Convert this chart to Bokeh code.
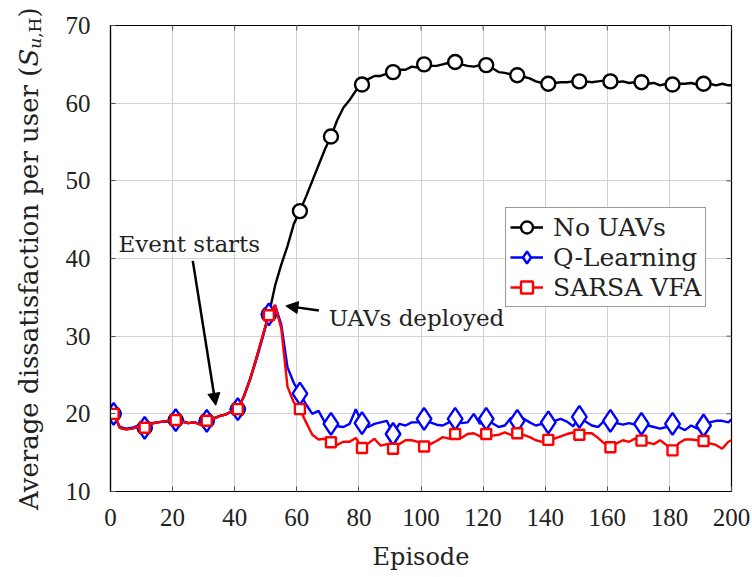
import math
from bokeh.plotting import figure
from bokeh.layouts import row
from bokeh.models import (ColumnDataSource, Range1d, Label, Arrow, Div,
                          NormalHead, Legend, LegendItem, FixedTicker)
from bokeh.embed import file_html
from bokeh.resources import INLINE

# ---------------- data ----------------
episodes = list(range(1, 200, 2)) + [200]

no_uavs = [
    20.0, 18.2, 18.0, 18.1, 18.4, 18.2, 18.7, 18.9, 19.0, 19.1,
    19.2, 19.0, 18.8, 18.9, 18.6, 19.1, 19.3, 19.7, 19.9, 20.3,
    20.6, 22.3, 24.5, 27.2, 30.0, 32.8, 36.5, 39.2, 41.6, 44.4,
    46.1, 48.0, 50.0, 52.0, 54.0, 55.7, 57.8, 59.4, 60.4, 61.6,
    62.4, 63.1, 63.5, 63.5, 63.8, 64.0, 64.3, 64.3, 64.7, 64.6,
    65.0, 64.8, 64.8, 65.0, 65.2, 65.3, 65.0, 64.8, 64.7, 64.9,
    64.9, 64.5, 64.0, 63.9, 63.7, 63.6, 63.4, 63.2, 62.8, 62.6,
    62.5, 62.6, 62.7, 62.7, 62.8, 62.8, 62.8, 62.7, 62.8, 62.9,
    62.8, 62.7, 62.8, 62.6, 62.7, 62.7, 62.5, 62.6, 62.3, 62.5,
    62.4, 62.5, 62.5, 62.6, 62.4, 62.5, 62.5, 62.3, 62.5, 62.3,
    62.3]

q_learning = [
    20.0, 18.3, 18.1, 18.2, 18.5, 18.2, 18.8, 18.9, 19.0, 19.0,
    19.2, 19.1, 18.8, 18.9, 18.7, 19.1, 19.4, 19.7, 19.9, 20.3,
    20.6, 22.3, 24.5, 27.0, 29.8, 32.8, 34.0, 31.5, 26.0, 24.0,
    22.6, 21.2, 20.0, 20.4, 18.9, 18.7, 18.4, 18.3, 18.7, 20.6,
    18.8, 18.3, 18.7, 18.9, 19.1, 17.4, 18.7, 18.5, 18.9, 18.9,
    19.35, 18.9, 18.6, 18.5, 18.9, 19.35, 18.8, 18.9, 20.0, 18.7,
    19.35, 18.8, 18.3, 18.5, 19.5, 19.1, 19.4, 18.9, 18.5, 18.7,
    18.9, 19.1, 19.35, 19.0, 18.4, 19.6, 19.0, 18.5, 18.3, 19.1,
    19.1, 18.8, 18.6, 18.8, 18.6, 18.7, 18.5, 18.3, 18.1, 18.3,
    18.7, 18.3, 17.9, 18.5, 18.1, 18.5, 18.9, 19.1, 19.1, 18.9,
    19.3]

sarsa_vfa = [
    20.0, 18.2, 18.0, 18.1, 18.4, 18.2, 18.7, 18.9, 19.0, 19.1,
    19.2, 19.0, 18.8, 18.9, 18.6, 19.1, 19.3, 19.7, 19.9, 20.3,
    20.6, 22.3, 24.5, 27.2, 30.0, 32.7, 34.0, 31.0, 23.5, 21.5,
    20.6, 18.9, 17.3, 16.7, 16.8, 16.35, 16.0, 16.4, 16.4, 16.9,
    15.6, 16.2, 16.8, 15.9, 16.1, 15.5, 16.1, 16.6, 16.6, 16.4,
    15.8, 16.1, 16.5, 17.0, 16.8, 17.4, 16.9, 17.4, 17.5, 17.1,
    17.4, 17.2, 17.3, 17.6, 17.3, 17.5, 17.3, 17.0, 16.6, 16.4,
    16.65, 16.8, 17.1, 17.4, 17.6, 17.3, 17.5, 17.5, 16.9, 16.2,
    15.7, 16.2, 16.6, 16.4, 16.8, 16.55, 16.3, 16.1, 16.6, 16.0,
    15.3, 16.2, 16.7, 16.7, 16.6, 16.5, 16.2, 16.0, 15.5, 16.4,
    16.6]

series_names = ["No UAVs", "Q-Learning", "SARSA VFA"]
x_ticks = [0, 20, 40, 60, 80, 100, 120, 140, 160, 180, 200]
y_ticks = [10, 20, 30, 40, 50, 60, 70]
x_label = "Episode"
y_label_html = 'Average dissatisfaction per user (<i>S</i><sub style="font-size:17px;"><i>u</i>,H</sub>)'

annot_event = "Event starts"
annot_uav = "UAVs deployed"

# ---------------- styling ----------------
TXT_FONT = "DejaVu Serif"
NUM_FONT = "Liberation Serif"
TXT_COLOR = "#222222"

p = figure(frame_width=621, frame_height=466,
           min_border_left=62, min_border_right=21,
           min_border_top=25, min_border_bottom=86,
           x_range=Range1d(0, 200), y_range=Range1d(10, 70),
           output_backend="svg", toolbar_location=None,
           background_fill_color="white", border_fill_color="white")

p.outline_line_color = "black"
p.outline_line_width = 1.2

for ax, ticks in ((p.xaxis, x_ticks), (p.yaxis, y_ticks)):
    ax.ticker = FixedTicker(ticks=ticks)
    ax.minor_tick_line_color = None
    ax.major_tick_in = 5
    ax.major_tick_out = 0
    ax.major_tick_line_color = "#555555"
    ax.axis_line_color = "black"
    ax.axis_line_width = 1.2
    ax.major_label_text_font = NUM_FONT
    ax.major_label_text_font_size = "25px"
    ax.major_label_text_color = TXT_COLOR
    ax.axis_label_text_font = TXT_FONT
    ax.axis_label_text_font_size = "24px"
    ax.axis_label_text_font_style = "normal"
    ax.axis_label_text_color = TXT_COLOR

p.xaxis.axis_label = x_label
p.xaxis.major_label_standoff = 17
p.xaxis.axis_label_standoff = 14
p.yaxis.major_label_standoff = 20

p.xgrid.ticker = FixedTicker(ticks=x_ticks)
p.ygrid.ticker = FixedTicker(ticks=y_ticks)
p.grid.grid_line_color = "#d2d2d2"
p.grid.grid_line_width = 1

# inward tick marks on the top and right frame edges
p.ray(x=x_ticks, y=[y_ticks[-1]] * len(x_ticks), length=5, length_units="screen",
      angle=-math.pi / 2, line_color="#555555", line_width=1)
p.ray(x=[x_ticks[-1]] * len(y_ticks), y=y_ticks, length=5, length_units="screen",
      angle=math.pi, line_color="#555555", line_width=1)

# ---------------- series ----------------
mark_idx = [i for i, e in enumerate(episodes) if (e - 1) % 10 == 0 and e <= 191]

def marks(vals):
    return ColumnDataSource(dict(x=[episodes[i] for i in mark_idx],
                                 y=[vals[i] for i in mark_idx]))

src_black = ColumnDataSource(dict(x=episodes, y=no_uavs))
src_blue = ColumnDataSource(dict(x=episodes, y=q_learning))
src_red = ColumnDataSource(dict(x=episodes, y=sarsa_vfa))

lb = p.line("x", "y", source=src_black, line_color="black", line_width=2.4)
mb = p.scatter("x", "y", source=marks(no_uavs), marker="circle", size=14,
               fill_color="white", line_color="black", line_width=2.4)

lq = p.line("x", "y", source=src_blue, line_color="#0000ff", line_width=2.4)
mq = p.scatter("x", "y", source=marks(q_learning), marker="diamond", size=22,
               fill_color="white", line_color="#0000ff", line_width=2.4)

lr = p.line("x", "y", source=src_red, line_color="#ff0000", line_width=2.4)
mr = p.scatter("x", "y", source=marks(sarsa_vfa), marker="square", size=10,
               fill_color="white", line_color="#ff0000", line_width=2.4)

legend = Legend(items=[
    LegendItem(label=series_names[0], renderers=[lb, mb]),
    LegendItem(label=series_names[1], renderers=[lq, mq]),
    LegendItem(label=series_names[2], renderers=[lr, mr]),
], location=(395, 184))
legend.label_text_font = TXT_FONT
legend.label_text_font_size = "25px"
legend.label_text_color = TXT_COLOR
legend.glyph_width = 33
legend.glyph_height = 30
legend.label_height = 25
legend.label_standoff = 10
legend.spacing = 0
legend.padding = 4
legend.margin = 0
legend.border_line_color = "#333333"
legend.border_line_width = 1
legend.background_fill_alpha = 1.0
p.add_layout(legend)

# ---------------- annotations ----------------
p.add_layout(Label(x=2.6, y=41.9, text=annot_event, text_font=TXT_FONT,
                   text_font_size="23px", text_baseline="middle", text_align="left",
                   text_color=TXT_COLOR))
p.add_layout(Label(x=70.3, y=32.3, text=annot_uav, text_font=TXT_FONT,
                   text_font_size="23px", text_baseline="middle", text_align="left",
                   text_color=TXT_COLOR))
p.add_layout(Arrow(end=NormalHead(size=12, fill_color="black", line_color="black"),
                   x_start=26.5, y_start=39.7, x_end=33.9, y_end=21.1,
                   line_width=2.5, line_color="black"))
p.add_layout(Arrow(end=NormalHead(size=12, fill_color="black", line_color="black"),
                   x_start=67.1, y_start=33.3, x_end=56.5, y_end=33.9,
                   line_width=2.5, line_color="black"))

# ---------------- rotated y-axis title (HTML, real text with subscript) ----------------
title_html = (
    '<div style="writing-mode:vertical-rl; transform:rotate(180deg); '
    'width:48px; height:518px; text-align:center; line-height:48px; '
    'position:relative; left:5px; white-space:nowrap; '
    "font-family:'DejaVu Serif'; font-size:26px; color:#222222;\">"
    + y_label_html + '</div>'
)
ylab = Div(text=title_html, width=48, height=577, margin=(0, 0, 0, 0))

layout = row(ylab, p, spacing=0)
open("out.html", "w").write(file_html(layout, INLINE))
